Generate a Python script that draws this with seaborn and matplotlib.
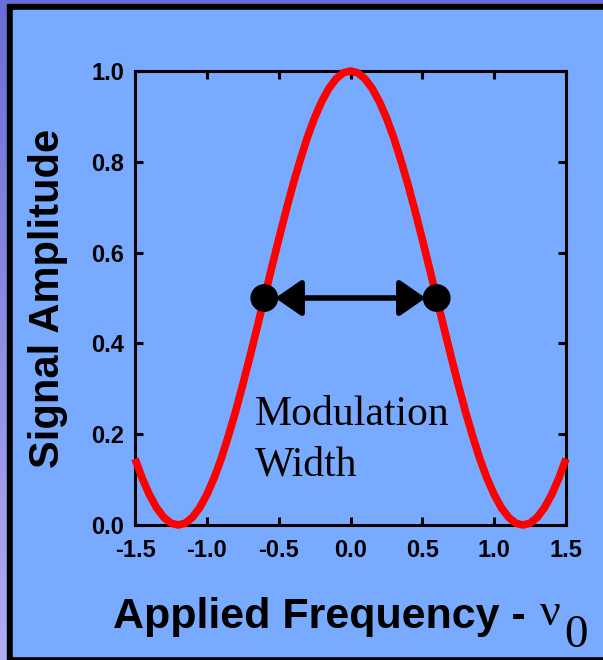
import numpy as np
import seaborn as sns
import matplotlib.pyplot as plt
from matplotlib.patches import Rectangle

# values
freq = [-1.5, -1.45, -1.4, -1.35, -1.3, -1.25, -1.2, -1.15, -1.1, -1.05,
        -1.0, -0.95, -0.9, -0.85, -0.8, -0.75, -0.7, -0.65, -0.6, -0.55,
        -0.5, -0.45, -0.4, -0.35, -0.3, -0.25, -0.2, -0.15, -0.1, -0.05,
        0.0,
        0.05, 0.1, 0.15, 0.2, 0.25, 0.3, 0.35, 0.4, 0.45, 0.5,
        0.55, 0.6, 0.65, 0.7, 0.75, 0.8, 0.85, 0.9, 0.95, 1.0,
        1.05, 1.1, 1.15, 1.2, 1.25, 1.3, 1.35, 1.4, 1.45, 1.5]
amplitude = [0.146, 0.103, 0.067, 0.038, 0.017, 0.004, 0.0, 0.004, 0.017, 0.038,
             0.067, 0.103, 0.146, 0.196, 0.25, 0.309, 0.371, 0.435, 0.5, 0.565,
             0.629, 0.691, 0.75, 0.804, 0.854, 0.897, 0.933, 0.962, 0.983, 0.996,
             1.0,
             0.996, 0.983, 0.962, 0.933, 0.897, 0.854, 0.804, 0.75, 0.691, 0.629,
             0.565, 0.5, 0.435, 0.371, 0.309, 0.25, 0.196, 0.146, 0.103, 0.067,
             0.038, 0.017, 0.004, 0.0, 0.004, 0.017, 0.038, 0.067, 0.103, 0.146]
half_x = [-0.6, 0.6]
half_y = [0.5, 0.5]
xticks = [-1.5, -1.0, -0.5, 0.0, 0.5, 1.0, 1.5]
yticks = [0.0, 0.2, 0.4, 0.6, 0.8, 1.0]

sns.set_theme(style="ticks")
plt.rcParams["font.family"] = ["Liberation Sans", "DejaVu Sans"]
plt.rcParams["text.color"] = "black"

W, H = 603, 660
fig = plt.figure(figsize=(W / 100, H / 100), dpi=100)

# purple gradient backdrop with black-framed blue panel
bg = fig.add_axes([0, 0, 1, 1], zorder=-10)
grad = np.linspace(0, 1, 256)[:, None]
top_c = np.array([108, 108, 216]) / 255
bot_c = np.array([174, 174, 240]) / 255
img = top_c[None, None, :] * (1 - grad[:, :, None]) + bot_c[None, None, :] * grad[:, :, None]
bg.imshow(img, aspect="auto", extent=[0, 1, 0, 1])
bg.add_patch(Rectangle((7 / W, 0), 1, 1 - 4 / H, color="black"))
bg.add_patch(Rectangle((13 / W, 4 / H), 1, 1 - 14 / H, color="#78aaff"))
bg.set_xlim(0, 1)
bg.set_ylim(0, 1)
bg.axis("off")

ax = fig.add_axes([135 / W, 1 - 525 / H, 431 / W, 454 / H])
ax.set_facecolor("none")

sns.lineplot(x=freq, y=amplitude, ax=ax, color="red", lw=5.5, clip_on=False,
             solid_capstyle="butt", solid_joinstyle="round", zorder=3)

ax.annotate("", xy=(half_x[1], half_y[1]), xytext=(half_x[0], half_y[0]),
            arrowprops=dict(arrowstyle="<|-|>,head_length=0.75,head_width=0.52",
                            mutation_scale=21, lw=4, color="black",
                            shrinkA=8, shrinkB=8), zorder=4)
sns.scatterplot(x=half_x, y=half_y, ax=ax, s=400, color="black",
                edgecolor="none", zorder=5)

ax.text(-0.665, 0.22, "Modulation", family="Liberation Serif", fontsize=30,
        va="baseline", ha="left", color="black")
ax.text(-0.665, 0.11, "Width", family="Liberation Serif", fontsize=30,
        va="baseline", ha="left", color="black")

ax.set_xlim(-1.5, 1.5)
ax.set_ylim(0, 1)
ax.set_xticks(xticks)
ax.set_yticks(yticks)
ax.set_xticklabels([f"{t:.1f}" for t in xticks], fontsize=17, fontweight="bold")
ax.set_yticklabels([f"{t:.1f}" for t in yticks], fontsize=17, fontweight="bold")
ax.tick_params(direction="in", length=6, width=2.2, top=True, right=True,
               colors="black", labelcolor="black")
ax.tick_params(axis="x", pad=10)
ax.tick_params(axis="y", pad=8)
for sp in ax.spines.values():
    sp.set_visible(True)
    sp.set_linewidth(2.2)
    sp.set_color("black")

fig.text(48 / W, 1 - 298 / H, "Signal Amplitude", rotation=90, fontsize=30,
         fontweight="bold", ha="center", va="center", color="black")
fig.text(113 / W, 1 - 628 / H, "Applied Frequency -", fontsize=31,
         fontweight="bold", ha="left", va="baseline", color="black")
fig.text(540 / W, 1 - 625 / H, "ν", family="Liberation Serif", fontsize=33,
         ha="left", va="baseline", color="black")
fig.text(564 / W, 1 - 647 / H, "0", family="Liberation Serif", fontsize=34,
         ha="left", va="baseline", color="black")

fig.savefig("out.png", dpi=100)
